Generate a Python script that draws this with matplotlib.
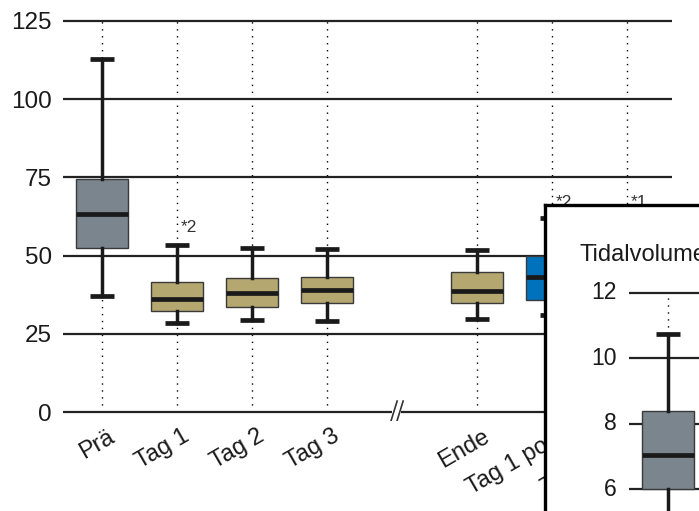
import matplotlib.pyplot as plt

plt.rcParams['font.family'] = ['Liberation Sans', 'DejaVu Sans']

W, H = 699, 511

# main chart data
categories = ['Prä', 'Tag 1', 'Tag 2', 'Tag 3', 'Ende', 'Tag 1 post', 'Tag 2 post']
positions = [1, 2, 3, 4, 6, 7, 8]
whis_lo = [37.2, 28.4, 29.5, 29.1, 29.8, 31.0]
q1 = [52.5, 32.2, 33.7, 34.9, 34.9, 35.8]
median = [63.4, 36.0, 38.0, 38.9, 38.6, 43.3]
q3 = [74.6, 41.5, 42.9, 43.3, 44.7, 49.9]
whis_hi = [113.0, 53.4, 52.3, 52.1, 51.8, 62.1]
box_colors = ['#7a858e', '#b4a770', '#b4a770', '#b4a770', '#b4a770', '#0072bb']
outlier_pos = [2, 7, 8]
outlier_val = [59.1, 67.0, 67.0]
outlier_lbl = ['*2', '*2', '*1']
yticks = [0, 25, 50, 75, 100, 125]
break_x = 4.93

# inset: Tidalvolumen
inset_title = 'Tidalvolumen'
inset_lo, inset_q1, inset_med, inset_q3, inset_hi = 4.6, 6.0, 7.04, 8.4, 10.73
inset_yticks = [6, 8, 10, 12]

ink = '#1a1a1a'


def px_axes(fig, left, top, right, bottom):
    return fig.add_axes([left / W, 1 - bottom / H, (right - left) / W, (bottom - top) / H])


def draw_boxes(ax, stats, pos, colors):
    res = ax.bxp(stats, positions=pos, widths=0.69, patch_artist=True,
                 showfliers=False, manage_ticks=False, capwidths=0.33,
                 boxprops=dict(edgecolor='#3a3a3a', linewidth=1),
                 medianprops=dict(color=ink, linewidth=3.4, solid_capstyle='butt'),
                 whiskerprops=dict(color=ink, linewidth=2.5),
                 capprops=dict(color=ink, linewidth=3.4, solid_capstyle='butt'))
    for patch, c in zip(res['boxes'], colors):
        patch.set_facecolor(c)
        patch.set_zorder(3)
    for key in ('medians', 'whiskers', 'caps'):
        for ln in res[key]:
            ln.set_zorder(4)


fig = plt.figure(figsize=(W / 100, H / 100), dpi=100)

# ---- main chart ----
ax = px_axes(fig, 63, 11.6, 672, 421.4)
ax.set_xlim(0.48, 8.6)
ax.set_ylim(-3, 128)
for s in ax.spines.values():
    s.set_visible(False)
ax.set_xticks([])
ax.set_yticks(yticks)
ax.set_yticklabels([str(t) for t in yticks], fontsize=17.5, color=ink)
ax.tick_params(axis='y', length=0, pad=8)

ax.vlines(positions, 0, 125, colors='k', linestyles=(0, (1, 4)), linewidth=1, zorder=1)
ax.hlines(yticks[1:], 0.48, 8.6, colors='#222222', linewidth=1.6, zorder=2)
ax.hlines([0, 0], [0.48, break_x + 0.06], [break_x - 0.06, 8.6], colors='#222222', linewidth=1.6, zorder=2)
for dx in (-0.04, 0.04):
    ax.plot([break_x + dx - 0.045, break_x + dx + 0.045], [-3.5, 3.5], color='#333333', lw=1.2, zorder=2)

stats = [dict(whislo=a, q1=b, med=c, q3=d, whishi=e)
         for a, b, c, d, e in zip(whis_lo, q1, median, q3, whis_hi)]
draw_boxes(ax, stats, positions[:len(stats)], box_colors)

for p, v, t in zip(outlier_pos, outlier_val, outlier_lbl):
    ax.text(p + 0.05, v, t, fontsize=12.5, ha='left', va='center', color='#333333')

for p, lbl in zip(positions, categories):
    ax.text(p + 0.07, -4.3, lbl, rotation=30, rotation_mode='anchor', ha='right', va='top',
            fontsize=17, color=ink, clip_on=False)

# ---- inset ----
ix = px_axes(fig, 544.5, 205.5, 900, 560)
ix.set_zorder(5)
ix.set_facecolor('white')
ix.set_xlim(1 - (668 - 544.5) / 75, 1 + (900 - 668) / 75)
ix.set_ylim(12 - (560 - 292.7) / 32.8, 12 + (292.7 - 205.5) / 32.8)
for side in ('right', 'bottom'):
    ix.spines[side].set_visible(False)
for side in ('left', 'top'):
    ix.spines[side].set_linewidth(2.4)
    ix.spines[side].set_color('black')
ix.set_xticks([])
ix.set_yticks([])

ix.hlines(inset_yticks, 0.48, 5, colors='#222222', linewidth=1.6, zorder=2)
ix.vlines([1], inset_hi, 12, colors='k', linestyles=(0, (1, 4)), linewidth=1, zorder=1)
for t in inset_yticks:
    ix.text(0.48 - 0.16, t, str(t), ha='right', va='center', fontsize=16.5, color=ink)
ix.text(1 - (668 - 579) / 75, 12 + (292.7 - 261) / 32.8, inset_title,
        ha='left', va='baseline', fontsize=17, color=ink, clip_on=True)
draw_boxes(ix, [dict(whislo=inset_lo, q1=inset_q1, med=inset_med, q3=inset_q3, whishi=inset_hi)],
           [1], ['#7a858e'])

fig.savefig('out.png', dpi=100)
